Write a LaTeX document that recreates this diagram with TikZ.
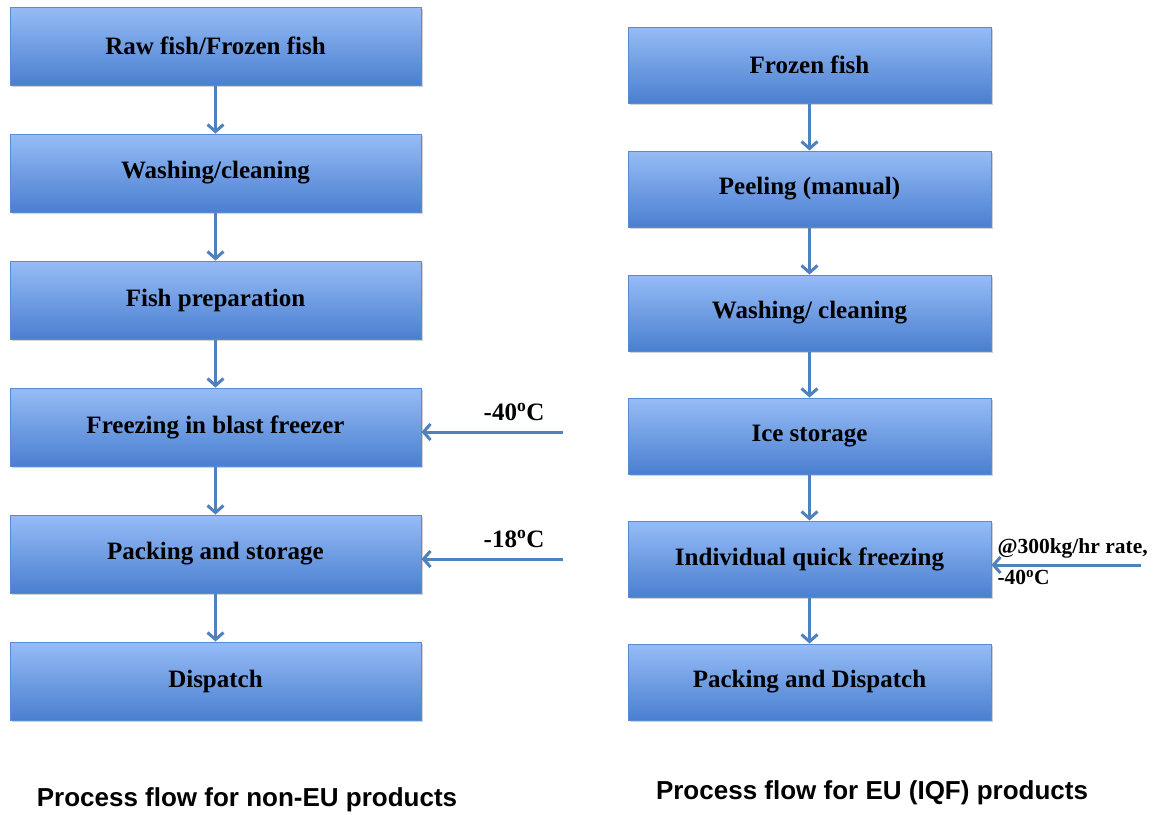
\documentclass[tikz,border=0pt]{standalone}
\usepackage{fontspec}
\setmainfont{Liberation Serif}
\newfontfamily\capfont{Liberation Sans}
\usetikzlibrary{arrows.meta,shadows}
\definecolor{boxtop}{HTML}{96BCF6}
\definecolor{boxbot}{HTML}{4A7FD0}
\definecolor{boxline}{HTML}{5A8AD0}
\definecolor{arr}{HTML}{4F81BD}
\tikzset{
  stepbox/.style={draw=boxline, line width=1pt, top color=boxtop, bottom color=boxbot,
    font=\fontsize{25}{28}\selectfont\bfseries, text=black,
    drop shadow={opacity=0.35, shadow xshift=1.5pt, shadow yshift=-2pt}},
  leftbox/.style={stepbox, minimum width=411pt, minimum height=78pt},
  rightbox/.style={stepbox, minimum width=363pt, minimum height=76pt},
  flow/.style={draw=arr, line width=3pt, -{Straight Barb[length=7pt,width=16pt]}},
  temp/.style={font=\fontsize{25}{26}\selectfont\bfseries, text=black},
  caption/.style={font=\capfont\fontsize{26}{28}\selectfont\bfseries, text=black}
}
\begin{document}
\begin{tikzpicture}[x=1pt,y=-1pt]
\useasboundingbox[fill=white] (0,0) rectangle (1154,814);
% left column
\node[leftbox] (l1) at (215.5,46) {Raw fish/Frozen fish};
\node[leftbox] (l2) at (215.5,173) {Washing/cleaning};
\node[leftbox] (l3) at (215.5,300) {Fish preparation};
\node[leftbox] (l4) at (215.5,427) {Freezing in blast freezer};
\node[leftbox] (l5) at (215.5,554) {Packing and storage};
\node[leftbox] (l6) at (215.5,681) {Dispatch};
\foreach \a/\b in {l1/l2,l2/l3,l3/l4,l4/l5,l5/l6}
  \draw[flow] (\a.south) -- (\b.north);
% left side inputs
\coordinate (t1) at (563,432);
\coordinate (t2) at (563,559);
\draw[flow] (t1) -- (t1 -| l4.east);
\draw[flow] (t2) -- (t2 -| l5.east);
\node[temp] (t1l) at (514,412) {-40\textsuperscript{o}C};
\node[temp] (t2l) at (514,539) {-18\textsuperscript{o}C};
% right column
\node[rightbox] (r1) at (809.5,65) {Frozen fish};
\node[rightbox] (r2) at (809.5,189) {Peeling (manual)};
\node[rightbox] (r3) at (809.5,313) {Washing/ cleaning};
\node[rightbox] (r4) at (809.5,436) {Ice storage};
\node[rightbox] (r5) at (809.5,559) {Individual quick freezing};
\node[rightbox] (r6) at (809.5,682) {Packing and Dispatch};
\foreach \a/\b in {r1/r2,r2/r3,r3/r4,r4/r5,r5/r6}
  \draw[flow] (\a.south) -- (\b.north);
\coordinate (t3) at (1141,565);
\draw[flow] (t3) -- (t3 -| r5.east);
\node[temp, align=left, anchor=west, font=\fontsize{21.5}{31}\selectfont\bfseries] (t3l) at (994,562) {@300kg/hr rate,\\-40\textsuperscript{o}C};
% captions
\node[caption] (c1) at (247,800) {Process flow for non-EU products};
\node[caption] (c2) at (872,793) {Process flow for EU (IQF) products};
\end{tikzpicture}
\end{document}
